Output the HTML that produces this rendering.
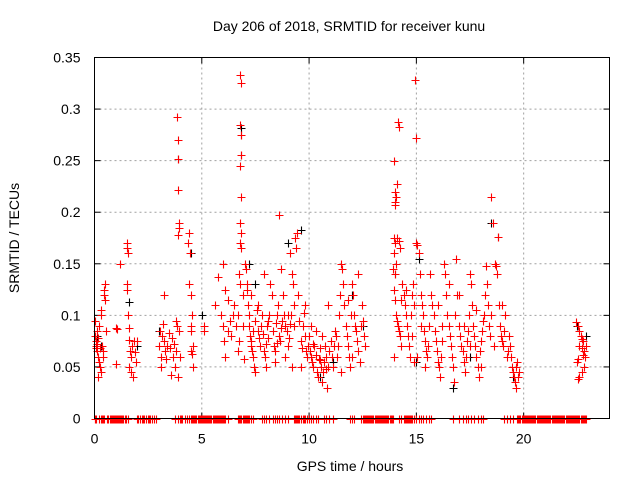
<!DOCTYPE html>
<html><head><meta charset="utf-8"><style>
body{margin:0;background:#fff;}
svg{display:block;font-family:"Liberation Sans",sans-serif;}
</style></head><body>
<svg id="chart" width="640" height="480" viewBox="0 0 640 480" xmlns="http://www.w3.org/2000/svg">
<rect width="640" height="480" fill="#fff"/>
<text x="349" y="31" font-size="14" text-anchor="middle" fill="#000">Day 206 of 2018, SRMTID for receiver kunu</text>
<text x="350" y="471" font-size="14" text-anchor="middle" fill="#000">GPS time / hours</text>
<text transform="translate(19,238) rotate(-90)" font-size="14" text-anchor="middle" fill="#000">SRMTID / TECUs</text>
<g id="grid"></g><g id="ticks"></g><g id="marks"></g>
<rect x="94.5" y="57.5" width="515" height="361" fill="none" stroke="#000" stroke-width="1"/>
</svg>
<script>
const xTicks=[0,5,10,15,20];
const yTicks=[0,0.05,0.1,0.15,0.2,0.25,0.3,0.35];
const yTickLabels=["0","0.05","0.1","0.15","0.2","0.25","0.3","0.35"];
const blackSamples=[[0.1,.08],[0.3,.07],[1.6,.113],[3.0,.085],[3.9,.252],[4.5,.16],[6.85,.282],[6.83,.275],[6.85,.255],[7.2,.15],[7.5,.13],[9.6,.183],[9.0,.17],[11.1,.055],[12.0,.12],[14.0,.14],[15.1,.155],[15.0,.055],[16.7,.03],[17.5,.06],[18.5,.19],[18.8,.176],[19.5,.04],[22.5,.09],[22.9,.08],[12.5,.09],[5.0,.1],[2.0,.07],[10.5,.04]];
const redSamples=[[0.02,.08],[0.05,.075],[0.08,.07],[0.1,.085],[0.12,.065],[0.15,.06],[0.18,.078],[0.2,.09],[0.22,.055],[0.25,.05],[0.28,.045],[0.3,.1],[0.32,.105],[0.35,.07],[0.38,.065],[0.4,.06],[0.42,.12],[0.45,.125],[0.48,.13],[0.5,.115],[0.52,.085],[0.03,.095],[0.07,.068],[0.13,.072],[0.17,.04],[0.26,.068],
[1.0,.088],[1.05,.087],[1.0,.053],[1.2,.15],
[1.5,.17],[1.52,.165],[1.55,.16],[1.5,.13],[1.53,.125],[1.55,.1],[1.6,.088],[1.6,.076],[1.65,.065],[1.7,.06],[1.6,.05],[1.68,.045],[1.75,.07],[1.8,.04],[1.85,.075],[1.9,.064],[2.0,.075],[1.95,.055],
[3.0,.07],[3.05,.085],[3.1,.06],[3.12,.05],[3.15,.08],[3.2,.092],[3.22,.12],[3.25,.075],[3.3,.065],[3.35,.058],[3.4,.07],[3.45,.083],[3.5,.068],[3.55,.042],[3.6,.078],[3.65,.06],[3.7,.072],[3.75,.05],
[3.85,.292],[3.87,.27],[3.9,.252],[3.88,.222],[3.92,.19],[3.95,.185],[3.9,.178],[3.85,.09],[3.95,.085],[3.8,.095],[4.0,.06],[3.9,.04],[3.8,.065],
[4.4,.18],[4.38,.17],[4.45,.16],[4.4,.13],[4.5,.12],[4.55,.1],[4.5,.09],[4.6,.07],[4.55,.063],[4.6,.05],[4.48,.085],[4.52,.065],
[5.1,.09],[5.12,.085],
[5.6,.11],[5.75,.137],[6.0,.15],[6.1,.125],[6.2,.115],[5.9,.1],[6.0,.09],[6.05,.075],[6.1,.06],[6.2,.085],[6.3,.095],[6.35,.08],[6.5,.11],[6.45,.1],[6.6,.09],
[6.78,.333],[6.85,.325],[6.8,.285],[6.85,.275],[6.83,.255],[6.78,.245],[6.85,.215],[6.8,.19],[6.82,.18],[6.78,.17],[6.85,.165],[6.75,.14],[6.8,.13],[6.9,.12],[6.7,.1],[6.9,.09],[6.75,.075],[6.7,.065],[6.95,.058],
[7.0,.15],[7.05,.145],[7.1,.13],[7.1,.125],[7.15,.11],[7.2,.1],[7.2,.09],[7.25,.08],[7.3,.075],[7.3,.07],[7.35,.065],[7.4,.06],[7.45,.05],[7.5,.045],[7.5,.095],[7.55,.105],[7.6,.085],[7.65,.078],[7.7,.07],[7.75,.09],[7.8,.1],[7.85,.082],[7.9,.065],[7.95,.06],[8.0,.072],[8.05,.09],[8.1,.095],[8.15,.1],[8.2,.13],[8.25,.12],[8.3,.085],[8.35,.07],[8.4,.065],[8.45,.093],[8.5,.1],[8.55,.11],[8.6,.197],[8.6,.08],[8.65,.075],[8.7,.088],[8.75,.095],[8.8,.12],[8.85,.1],[8.9,.09],[8.95,.085],[9.0,.07],[9.05,.078],[9.1,.092],[9.15,.1],[9.2,.14],[9.25,.13],[9.3,.11],[9.35,.175],[9.4,.165],[9.45,.18],[9.5,.12],[9.55,.095],[9.6,.075],[9.65,.068],[9.7,.09],[9.75,.102],[9.8,.08],[9.85,.065],[9.9,.06],[9.95,.07],[7.3,.12],[7.6,.11],[8.0,.05],[8.4,.055],[8.9,.06],[9.2,.05],[9.6,.05],[7.9,.14],[8.7,.145],[9.1,.16],[7.4,.085],[8.1,.078],[8.5,.073],[9.0,.1],[9.3,.09],[9.8,.11],
[10.0,.08],[10.05,.065],[10.1,.06],[10.15,.055],[10.2,.05],[10.25,.07],[10.3,.062],[10.35,.045],[10.4,.04],[10.45,.058],[10.5,.068],[10.55,.05],[10.6,.035],[10.65,.045],[10.7,.055],[10.75,.07],[10.8,.06],[10.85,.03],[10.9,.05],[10.95,.065],[11.0,.075],[11.05,.06],[11.1,.05],[11.15,.07],[11.2,.085],[11.25,.08],[10.1,.09],[10.3,.085],[10.6,.08],[10.9,.11],[10.2,.072],[10.5,.057],[10.8,.048],
[11.3,.06],[11.35,.07],[11.4,.1],[11.45,.12],[11.5,.15],[11.55,.145],[11.6,.13],[11.65,.11],[11.7,.09],[11.75,.08],[11.8,.07],[11.85,.06],[11.9,.05],[11.95,.1],[12.0,.13],[12.05,.12],[12.1,.1],[12.15,.09],[12.2,.085],[12.25,.075],[12.3,.065],[12.35,.055],[12.4,.09],[12.45,.11],[12.5,.095],[12.55,.08],[12.6,.07],[11.5,.045],[12.0,.06],[12.3,.14],[11.8,.115],
[13.95,.25],[14.0,.22],[14.05,.215],[14.02,.21],[14.0,.207],[14.1,.227],[14.15,.287],[14.18,.283],[13.95,.175],[14.0,.17],[13.98,.16],[14.05,.15],[13.92,.145],[14.0,.14],[14.1,.175],[14.2,.172],[14.25,.165],[13.95,.125],[14.0,.115],[14.05,.1],[14.1,.095],[14.15,.09],[14.2,.085],[14.25,.08],[14.3,.07],[13.98,.06],[14.35,.13],[14.4,.12],[14.45,.11],[14.5,.1],[14.55,.09],[14.6,.08],[14.65,.07],[14.7,.06],[14.75,.1],[14.8,.12],[14.85,.13],[14.9,.11],[14.95,.328],[15.0,.272],[15.0,.17],[15.05,.168],[15.1,.16],[15.15,.14],[15.2,.12],[15.25,.11],[15.3,.1],[15.35,.085],[15.4,.075],[15.45,.065],[15.5,.06],[15.55,.07],[15.6,.09],[14.9,.055],[15.05,.06],[14.3,.115],[14.5,.125],[14.8,.08],[15.2,.09],[15.4,.05],
[15.65,.14],[15.7,.12],[15.75,.11],[15.8,.1],[15.85,.085],[15.9,.075],[15.95,.065],[16.0,.055],[16.05,.05],[16.1,.04],[16.15,.06],[16.2,.09],[16.3,.15],[16.35,.14],[16.4,.12],[16.45,.1],[16.5,.09],[16.55,.08],[16.6,.07],[16.65,.06],[16.7,.05],[16.75,.035],[16.8,.1],[16.85,.155],[16.9,.12],[17.0,.09],[17.05,.08],[17.1,.07],[17.15,.065],[17.2,.055],[17.25,.045],[17.3,.06],[17.35,.075],[17.4,.085],[17.45,.1],[17.5,.14],[17.55,.13],[17.6,.11],[17.65,.09],[17.7,.08],[17.75,.07],[17.8,.06],[17.85,.05],[17.9,.04],[17.95,.065],[18.0,.075],[18.05,.085],[18.1,.095],[18.15,.1],[18.2,.12],[18.25,.148],[18.3,.13],[18.35,.11],[18.4,.09],[18.45,.08],[18.5,.215],[18.55,.19],[18.6,.07],[18.65,.15],[18.7,.148],[18.75,.14],[18.8,.176],[18.85,.11],[18.9,.09],[18.95,.08],[19.0,.075],[19.05,.07],[19.1,.085],[19.15,.1],[19.2,.06],[19.25,.065],[19.3,.08],[19.35,.07],[19.4,.06],[19.45,.05],[19.5,.045],[19.55,.04],[19.6,.035],[19.62,.03],[19.65,.05],[19.7,.055],[19.75,.04],[19.8,.045],[16.0,.11],[16.5,.13],[17.0,.12],[17.5,.07],[18.0,.05],[18.5,.1],[19.0,.11],[16.2,.075],[17.2,.09],[17.8,.105],
[22.45,.094],[22.55,.09],[22.6,.085],[22.65,.08],[22.7,.077],[22.75,.075],[22.6,.07],[22.7,.068],[22.8,.065],[22.75,.062],[22.55,.058],[22.5,.055],[22.85,.06],[22.8,.05],[22.7,.045],[22.6,.04],[22.55,.038],[22.9,.07]];
const zeroHours=[0,0.04,0.08,0.2,0.3,0.35,0.4,0.45,0.6,0.65,0.7,0.75,0.8,0.85,0.9,0.95,1.0,1.05,1.1,1.15,1.2,1.25,1.3,1.35,1.4,1.45,1.55,2.0,2.05,2.1,2.2,2.25,2.3,2.4,2.5,2.55,2.6,2.7,2.75,2.85,3.75,3.9,4.0,4.05,4.1,4.2,4.3,4.4,4.5,4.55,4.6,4.65,4.7,4.75,4.8,4.85,4.9,4.95,5.0,5.05,5.1,5.15,5.2,5.25,5.3,5.35,5.4,5.45,5.5,5.55,5.6,5.65,5.7,5.75,5.8,5.85,5.9,5.95,6.0,6.05,6.1,6.2,6.7,6.75,6.8,6.85,6.9,6.95,7.0,7.05,7.1,7.15,7.2,7.3,7.4,7.8,7.9,8.0,8.15,8.3,8.4,8.5,8.6,8.75,8.9,9.0,9.3,9.35,9.4,9.45,9.5,9.55,9.6,9.7,9.75,9.8,9.9,10.0,10.1,10.2,10.3,10.4,10.7,10.8,10.95,11.1,11.9,12.0,12.1,12.4,12.5,12.55,12.6,12.65,12.7,12.75,12.8,12.85,12.9,12.95,13.0,13.05,13.1,13.15,13.2,13.25,13.3,13.35,13.4,13.45,13.5,13.55,13.6,13.65,13.7,13.75,13.8,13.85,13.9,14.2,14.3,14.4,14.45,14.5,14.55,14.6,14.65,14.7,14.75,14.8,14.9,15.0,15.1,15.2,15.3,15.45,15.6,15.7,16.7,17.0,17.15,17.3,17.4,17.55,17.7,17.85,18.0,18.1,19.1,19.2,19.35,19.5,19.7,19.75,19.8,19.85,19.9,19.95,20.0,20.05,20.1,20.15,20.2,20.25,20.3,20.35,20.4,20.45,20.5,20.55,20.6,20.65,20.7,20.75,20.8,20.85,20.9,20.95,21.0,21.05,21.1,21.15,21.2,21.25,21.3,21.35,21.4,21.45,21.5,21.55,21.6,21.65,21.7,21.75,21.8,21.85,21.9,21.95,22.0,22.05,22.1,22.15,22.2,22.25,22.3,22.35,22.4,22.45,22.5,22.55,22.6,22.65,22.7,22.75,22.8,22.85,22.9];

const NS="http://www.w3.org/2000/svg";
const L=94.5,R=609.5,T=57.5,B=418.5,XMAX=24,YMAX=0.35;
function xs(h){return L+(R-L)*h/XMAX;}
function ys(v){return B-(B-T)*v/YMAX;}
function mk(tag,attrs,parent){const e=document.createElementNS(NS,tag);for(const k in attrs)e.setAttribute(k,attrs[k]);parent.appendChild(e);return e;}
const grid=document.getElementById('grid'),ticks=document.getElementById('ticks'),marks=document.getElementById('marks');
xTicks.forEach(t=>{const x=xs(t);
 if(t>0){const g=mk('line',{x1:x,y1:T,x2:x,y2:B,stroke:'#a0a0a0','stroke-dasharray':'2,3'},grid);
 
 }
 mk('line',{x1:x,y1:B,x2:x,y2:B-6,stroke:'#000'},ticks);
 mk('line',{x1:x,y1:T,x2:x,y2:T+6,stroke:'#000'},ticks);
 const lb=mk('text',{x:x,y:B+25,'font-size':14,'text-anchor':'middle',fill:'#000'},ticks);lb.textContent=String(t);
 
 
});
yTicks.forEach((v,i)=>{const y=ys(v);
 if(v>0&&v<YMAX){const g=mk('line',{x1:L,y1:y,x2:R,y2:y,stroke:'#a0a0a0','stroke-dasharray':'2,3'},grid);
 
 }
 mk('line',{x1:L,y1:y,x2:L+6,y2:y,stroke:'#000'},ticks);
 mk('line',{x1:R,y1:y,x2:R-6,y2:y,stroke:'#000'},ticks);
 const lb=mk('text',{x:L-14,y:y+5,'font-size':14,'text-anchor':'end',fill:'#000'},ticks);lb.textContent=yTickLabels[i];
 
 
});
function plus(h,v,col,name){const x=Math.round(xs(h))+0.5,y=Math.round(ys(v))+0.5;
 const p=mk('path',{d:`M${x-4},${y}H${x+4}M${x},${y-4}V${y+4}`,stroke:col,'stroke-width':1.1,fill:'none'},marks);
 
 }
blackSamples.forEach(d=>plus(d[0],d[1],'#000','black-point'));
redSamples.forEach(d=>plus(d[0],d[1],'#ff0000','red-point'));
zeroHours.forEach(h=>plus(h,0,'#ff0000','zero-point'));
</script>
</body></html>
